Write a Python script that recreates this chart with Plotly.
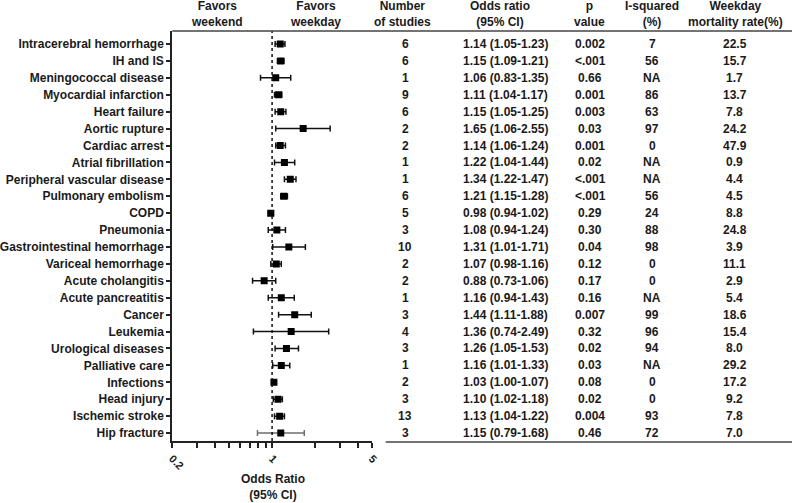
import plotly.graph_objects as go

categories = ["Intracerebral hemorrhage", "IH and IS", "Meningococcal disease", "Myocardial infarction",
              "Heart failure", "Aortic rupture", "Cardiac arrest", "Atrial fibrillation",
              "Peripheral vascular disease", "Pulmonary embolism", "COPD", "Pneumonia",
              "Gastrointestinal hemorrhage", "Variceal hemorrhage", "Acute cholangitis",
              "Acute pancreatitis", "Cancer", "Leukemia", "Urological diseases", "Palliative care",
              "Infections", "Head injury", "Ischemic stroke", "Hip fracture"]
n_studies = [6, 6, 1, 9, 6, 2, 2, 1, 1, 6, 5, 3, 10, 2, 2, 1, 3, 4, 3, 1, 2, 3, 13, 3]
odds = [1.14, 1.15, 1.06, 1.11, 1.15, 1.65, 1.14, 1.22, 1.34, 1.21, 0.98, 1.08, 1.31, 1.07,
        0.88, 1.16, 1.44, 1.36, 1.26, 1.16, 1.03, 1.10, 1.13, 1.15]
ci_lo = [1.05, 1.09, 0.83, 1.04, 1.05, 1.06, 1.06, 1.04, 1.22, 1.15, 0.94, 0.94, 1.01, 0.98,
         0.73, 0.94, 1.11, 0.74, 1.05, 1.01, 1.00, 1.02, 1.04, 0.79]
ci_hi = [1.23, 1.21, 1.35, 1.17, 1.25, 2.55, 1.24, 1.44, 1.47, 1.28, 1.02, 1.24, 1.71, 1.16,
         1.06, 1.43, 1.88, 2.49, 1.53, 1.33, 1.07, 1.18, 1.22, 1.68]
p_values = ["0.002", "<.001", "0.66", "0.001", "0.003", "0.03", "0.001", "0.02", "<.001", "<.001",
            "0.29", "0.30", "0.04", "0.12", "0.17", "0.16", "0.007", "0.32", "0.02", "0.03",
            "0.08", "0.02", "0.004", "0.46"]
i_squared = ["7", "56", "NA", "86", "63", "97", "0", "NA", "NA", "56", "24", "88", "98", "0", "0",
             "NA", "99", "96", "94", "NA", "0", "0", "93", "72"]
mortality = ["22.5", "15.7", "1.7", "13.7", "7.8", "24.2", "47.9", "0.9", "4.4", "4.5", "8.8",
             "24.8", "3.9", "11.1", "2.9", "5.4", "18.6", "15.4", "8.0", "29.2", "17.2", "9.2",
             "7.8", "7.0"]
x_tickvals = [0.2, 0.3, 0.4, 0.5, 0.6, 0.7, 0.8, 0.9, 1, 2, 3, 4, 5]
x_ticklabels = {0.2: "0.2", 1: "1", 5: "5"}

W, H = 800, 503
FONT = "Arial, 'Liberation Sans', sans-serif"
TXT = "#1a1a1a"

def px(x):
    return x / W

def py(y):
    return 1 - y / H

fig = go.Figure()

gray_idx = [len(categories) - 1]
main_idx = [i for i in range(len(categories)) if i not in gray_idx]

for idx, col in [(main_idx, "#111111"), (gray_idx, "#6e6e6e")]:
    fig.add_trace(go.Scatter(
        x=[odds[i] for i in idx],
        y=[categories[i] for i in idx],
        mode="markers",
        marker=dict(symbol="square", size=7, color="#000000"),
        error_x=dict(type="data", symmetric=False,
                     array=[ci_hi[i] - odds[i] for i in idx],
                     arrayminus=[odds[i] - ci_lo[i] for i in idx],
                     color=col, thickness=1.5, width=3),
        showlegend=False, hoverinfo="skip",
    ))

n = len(categories)
fig.update_layout(
    width=W, height=H,
    margin=dict(l=0, r=0, t=0, b=0),
    paper_bgcolor="white", plot_bgcolor="white",
    font=dict(family=FONT, color=TXT, size=12, weight="bold"),
    xaxis=dict(type="log", domain=[px(170), px(373)],
               range=[-0.69897, 0.69897],
               tickvals=x_tickvals,
               ticktext=[x_ticklabels.get(v, "") for v in x_tickvals],
               tickangle=45, ticks="outside", ticklen=5, tickwidth=1.5, tickcolor="#222",
               showline=True, linecolor="#222", linewidth=2, showgrid=False, zeroline=False,
               tickfont=dict(size=11, family=FONT, color=TXT, weight="bold")),
    yaxis=dict(domain=[py(441), py(31)], type="category",
               categoryorder="array", categoryarray=categories,
               range=[n - 1 + 0.47, -0.77],
               ticks="outside", ticklen=4, tickwidth=1.5, tickcolor="#222",
               showline=True, linecolor="#222", linewidth=2, showgrid=False, zeroline=False,
               tickfont=dict(size=12, family=FONT, color=TXT, weight="bold")),
)

shapes = [
    dict(type="line", xref="x", yref="paper", x0=1, x1=1, y0=py(441), y1=py(31),
         line=dict(color="#111", width=1.5, dash="dot")),
    dict(type="line", xref="paper", yref="paper", x0=px(170), x1=px(800), y0=py(31), y1=py(31),
         line=dict(color="#444", width=1.5)),
    dict(type="line", xref="paper", yref="paper", x0=px(387), x1=px(800), y0=py(442), y1=py(442),
         line=dict(color="#444", width=1.5)),
]
fig.update_layout(shapes=shapes)

ann = []
headers = [(215, "Favors<br>weekend"), (316, "Favors<br>weekday"), (404, "Number<br>of studies"),
           (503, "Odds ratio<br>(95% CI)"), (594, "p<br>value"), (658, "I-squared<br>(%)"),
           (743, "Weekday<br>mortality rate(%)")]
for xh, t in headers:
    ann.append(dict(x=px(xh), y=py(14), xref="paper", yref="paper", text=t, showarrow=False,
                    xanchor="center", yanchor="middle", align="center",
                    font=dict(size=12, family=FONT, color=TXT, weight="bold")))

cols = [407, 509, 595, 658, 742]
for i, c in enumerate(categories):
    vals = [str(n_studies[i]), f"{odds[i]:.2f} ({ci_lo[i]:.2f}-{ci_hi[i]:.2f})",
            p_values[i], i_squared[i], mortality[i]]
    for xc, v in zip(cols, vals):
        ann.append(dict(x=px(xc), y=c, xref="paper", yref="y", text=v, showarrow=False,
                        xanchor="center", yanchor="middle",
                        font=dict(size=12, family=FONT, color=TXT, weight="bold")))

ann.append(dict(x=px(272), y=py(487), xref="paper", yref="paper",
                text="Odds Ratio<br>(95% CI)", showarrow=False, xanchor="center", yanchor="middle",
                align="center", font=dict(size=12, family=FONT, color=TXT, weight="bold")))
fig.update_layout(annotations=ann)

fig.write_html("out.html", config={"displayModeBar": False},
               post_script="document.body.style.margin='0px';document.body.style.overflow='hidden';")
